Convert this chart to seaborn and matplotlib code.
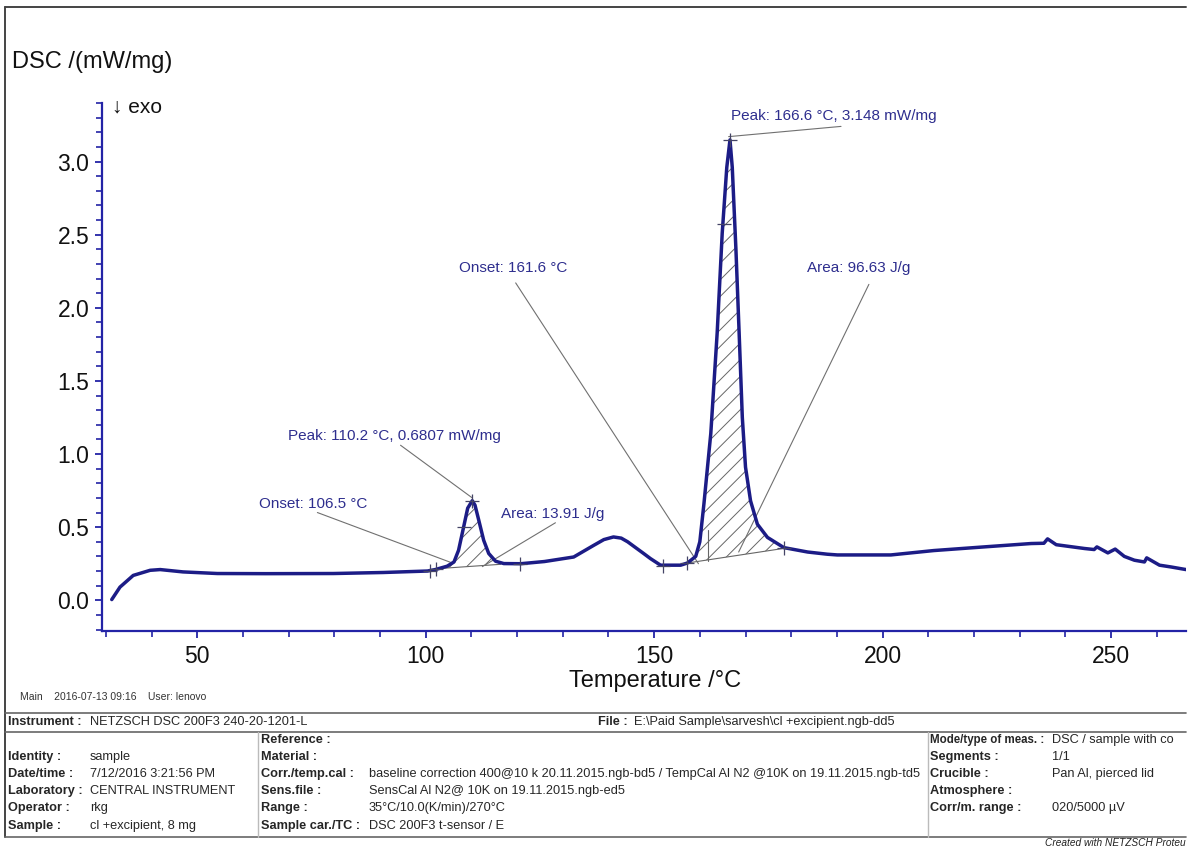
import numpy as np
import matplotlib
matplotlib.use("Agg")
import matplotlib.pyplot as plt
import seaborn as sns
from matplotlib.ticker import MultipleLocator, FormatStrFormatter


# DSC trace
temp_c = [
    31.3, 33.1, 36.0, 39.7, 41.9, 46.9, 54.4, 65.0, 79.8, 90.7,
    100.4, 102.1, 104.7, 106.2, 107.2, 108.3, 109.2, 110.2, 110.8, 111.6,
    112.7, 113.8, 115.3, 117.1, 120.8, 126.0, 132.4, 136.8, 139.0, 141.1,
    142.8, 144.2, 147.7, 149.2, 151.4, 155.8, 157.3, 159.1, 160.0, 160.9,
    162.4, 163.8, 164.9, 165.9, 166.6, 167.1, 167.9, 168.6, 169.3, 170.0,
    171.1, 172.6, 174.8, 178.4, 183.6, 187.9, 190.1, 201.8, 211.2, 222.2,
    232.5, 235.3, 236.1, 238.0, 244.2, 246.3, 246.9, 249.3, 250.9, 252.9,
    255.1, 257.3, 257.8, 260.6, 263.1, 266.4,
]
dsc_mw_mg = [
    0.005, 0.09, 0.17, 0.205, 0.21, 0.194, 0.183, 0.182, 0.183, 0.19,
    0.20, 0.21, 0.233, 0.262, 0.342, 0.50, 0.63, 0.681, 0.65, 0.55,
    0.41, 0.32, 0.267, 0.251, 0.25, 0.265, 0.296, 0.376, 0.415, 0.433,
    0.425, 0.40, 0.32, 0.285, 0.24, 0.24, 0.255, 0.30, 0.40, 0.66,
    1.14, 1.83, 2.51, 2.96, 3.148, 2.96, 2.40, 1.83, 1.25, 0.91,
    0.68, 0.52, 0.43, 0.36, 0.33, 0.315, 0.31, 0.31, 0.34, 0.365,
    0.388, 0.39, 0.42, 0.38, 0.354, 0.347, 0.365, 0.324, 0.35, 0.30,
    0.274, 0.262, 0.29, 0.24, 0.228, 0.21,
]

# peak evaluations: baseline limits (T, value)
peak1_base = [(103.9, 0.219), (116.4, 0.246)]
peak2_base = [(157.3, 0.255), (178.4, 0.355)]

# annotation labels and anchor positions (data coords)
label_texts = [
    "Peak: 166.6 \u00b0C, 3.148 mW/mg",
    "Onset: 161.6 \u00b0C",
    "Area: 96.63 J/g",
    "Peak: 110.2 \u00b0C, 0.6807 mW/mg",
    "Onset: 106.5 \u00b0C",
    "Area: 13.91 J/g",
]
label_t = [166.8, 107.2, 183.4, 69.9, 63.6, 116.4]
label_v = [3.31, 2.27, 2.27, 1.12, 0.66, 0.59]
leader_start = [(166.3, 3.17), (119.7, 2.17), (197.0, 2.16),
                (94.5, 1.06), (76.3, 0.60), (128.4, 0.53)]
leader_end = [(190.9, 3.24), (159.7, 0.25), (168.5, 0.33),
              (110.2, 0.70), (105.4, 0.26), (112.4, 0.23)]

cross_t = [100.9, 102.2, 110.2, 120.6, 151.9, 157.3, 166.6, 178.4]
cross_v = [0.20, 0.215, 0.681, 0.25, 0.235, 0.255, 3.148, 0.355]
dash_t = [108.3, 165.2]
dash_v = [0.50, 2.57]

# info table
left_labels = ["Identity :", "Date/time :", "Laboratory :", "Operator :", "Sample :"]
left_values = ["sample", "7/12/2016 3:21:56 PM", "CENTRAL INSTRUMENT", "rkg",
               "cl +excipient, 8 mg"]
mid_labels = ["Reference :", "Material :", "Corr./temp.cal :", "Sens.file :",
              "Range :", "Sample car./TC :"]
mid_values = ["", "",
              "baseline correction 400@10 k 20.11.2015.ngb-bd5 / TempCal Al N2 @10K on 19.11.2015.ngb-td5",
              "SensCal Al N2@ 10K on 19.11.2015.ngb-ed5",
              "35\u00b0C/10.0(K/min)/270\u00b0C",
              "DSC 200F3 t-sensor / E"]
right_labels = ["Mode/type of meas. :", "Segments :", "Crucible :", "Atmosphere :",
                "Corr/m. range :"]
right_values = ["DSC / sample with co", "1/1", "Pan Al, pierced lid", "",
                "020/5000 \u00b5V"]

sns.set_theme(style="white")
plt.rcParams["font.family"] = ["Liberation Sans", "DejaVu Sans"]
plt.rcParams["hatch.linewidth"] = 0.7

AXIS_BLUE = "#2323a6"
CURVE = "#1c1c86"
ANN = "#2e2e8e"
GREY = "#707070"

W, H = 1195, 849
fig = plt.figure(figsize=(W / 100, H / 100), dpi=100)

# background overlay in pixel coordinates for frame, table and loose text
bg = fig.add_axes([0, 0, 1, 1], zorder=0)
bg.set_xlim(0, W)
bg.set_ylim(H, 0)
bg.axis("off")

ax = fig.add_axes([101.7 / W, (H - 631) / H, (1186 - 101.7) / W, (631 - 103) / H], zorder=1)
ax.patch.set_alpha(0)

sns.lineplot(x=temp_c, y=dsc_mw_mg, ax=ax, color=CURVE, linewidth=2.5,
             sort=False, estimator=None, zorder=5)

t_arr = np.array(temp_c)
v_arr = np.array(dsc_mw_mg)
for (t0, b0), (t1, b1) in [peak1_base, peak2_base]:
    mask = (t_arr > t0) & (t_arr < t1)
    xs = np.concatenate([[t0], t_arr[mask], [t1]])
    ys = np.concatenate([[np.interp(t0, t_arr, v_arr)], v_arr[mask],
                         [np.interp(t1, t_arr, v_arr)]])
    base = np.interp(xs, [t0, t1], [b0, b1])
    ax.fill_between(xs, base, ys, facecolor="none", edgecolor="#666666",
                    hatch="//", linewidth=0, zorder=3)
    ax.plot([t0, t1], [b0, b1], color="#666666", linewidth=0.8, zorder=3)

# onset construction on the big peak
ax.plot([161.7, 161.7], [0.27, 0.48], color="#666666", linewidth=0.8, zorder=3)

for (x0, y0), (x1, y1) in zip(leader_start, leader_end):
    ax.plot([x0, x1], [y0, y1], color=GREY, linewidth=0.8, zorder=4)

for txt, tx, ty in zip(label_texts, label_t, label_v):
    ax.text(tx, ty, txt, color=ANN, fontsize=11, ha="left", va="center", zorder=6)

ax.plot(cross_t, cross_v, linestyle="none", marker="+", markersize=10,
        markeredgewidth=0.9, color="#444466", zorder=6)
ax.plot(dash_t, dash_v, linestyle="none", marker="_", markersize=10,
        markeredgewidth=0.9, color="#444466", zorder=6)

ax.set_xlim(29.1, 266.4)
ax.set_ylim(-0.21, 3.40)
ax.xaxis.set_major_locator(MultipleLocator(50))
ax.xaxis.set_minor_locator(MultipleLocator(10))
ax.yaxis.set_major_locator(MultipleLocator(0.5))
ax.yaxis.set_minor_locator(MultipleLocator(0.1))
ax.yaxis.set_major_formatter(FormatStrFormatter("%.1f"))
ax.set_xlabel("")
ax.set_ylabel("")

for side in ["top", "right"]:
    ax.spines[side].set_visible(False)
for side in ["left", "bottom"]:
    ax.spines[side].set_color(AXIS_BLUE)
    ax.spines[side].set_linewidth(1.6)

ax.tick_params(axis="both", which="major", direction="out", length=5, width=1.3,
               color=AXIS_BLUE, labelsize=16.5, labelcolor="#111111", pad=4,
               bottom=True, left=True)
ax.tick_params(axis="both", which="minor", direction="out", length=4, width=1.2,
               color=AXIS_BLUE, bottom=True, left=True)
ax.tick_params(axis="x", which="major", pad=5)
ax.grid(False)

# axis titles
bg.text(12, 62, "DSC /(mW/mg)", fontsize=17, ha="left", va="center", color="#111111")
bg.text(112, 107, "\u2193 exo", fontsize=15, ha="left", va="center", color="#111111")
bg.text(655, 681, "Temperature /\u00b0C", fontsize=17, ha="center", va="center",
        color="#111111")
bg.text(20, 697, "Main    2016-07-13 09:16    User: lenovo", fontsize=7.5,
        ha="left", va="center", color="#333333")

# frame and table rules
bg.plot([5, 1186], [7, 7], color="#444444", linewidth=1.4)
bg.plot([5, 5], [7, 837], color="#444444", linewidth=1.4)
bg.plot([5, 1186], [713, 713], color="#666666", linewidth=1.2)
bg.plot([5, 1186], [732, 732], color="#666666", linewidth=1.2)
bg.plot([5, 1186], [837, 837], color="#666666", linewidth=1.2)
bg.plot([258, 258], [732, 837], color="#bbbbbb", linewidth=1.0)
bg.plot([928, 928], [732, 837], color="#bbbbbb", linewidth=1.0)

TFS = 9.2
bg.text(8, 722, "Instrument :", fontsize=TFS, fontweight="bold", va="center")
bg.text(90, 722, "NETZSCH DSC 200F3 240-20-1201-L", fontsize=TFS, va="center")
bg.text(598, 722, "File :", fontsize=TFS, fontweight="bold", va="center")
bg.text(634, 722, "E:\\Paid Sample\\sarvesh\\cl +excipient.ngb-dd5", fontsize=TFS,
        va="center")

row_y = [740, 757, 774, 791, 808, 826]
for lab, val, y in zip(left_labels, left_values, row_y[1:]):
    bg.text(8, y, lab, fontsize=TFS, fontweight="bold", va="center")
    bg.text(90, y, val, fontsize=TFS, va="center")
for lab, val, y in zip(mid_labels, mid_values, row_y):
    bg.text(261, y, lab, fontsize=TFS, fontweight="bold", va="center")
    bg.text(369, y, val, fontsize=TFS, va="center")
for lab, val, y in zip(right_labels, right_values, row_y[:5]):
    lab_fs = 8.3 if len(lab) > 16 else TFS
    bg.text(930, y, lab, fontsize=lab_fs, fontweight="bold", va="center")
    bg.text(1052, y, val, fontsize=TFS, va="center")

bg.text(1186, 843, "Created with NETZSCH Proteu", fontsize=7.3, style="italic",
        ha="right", va="center", color="#222222")

fig.savefig("out.png", dpi=100)
